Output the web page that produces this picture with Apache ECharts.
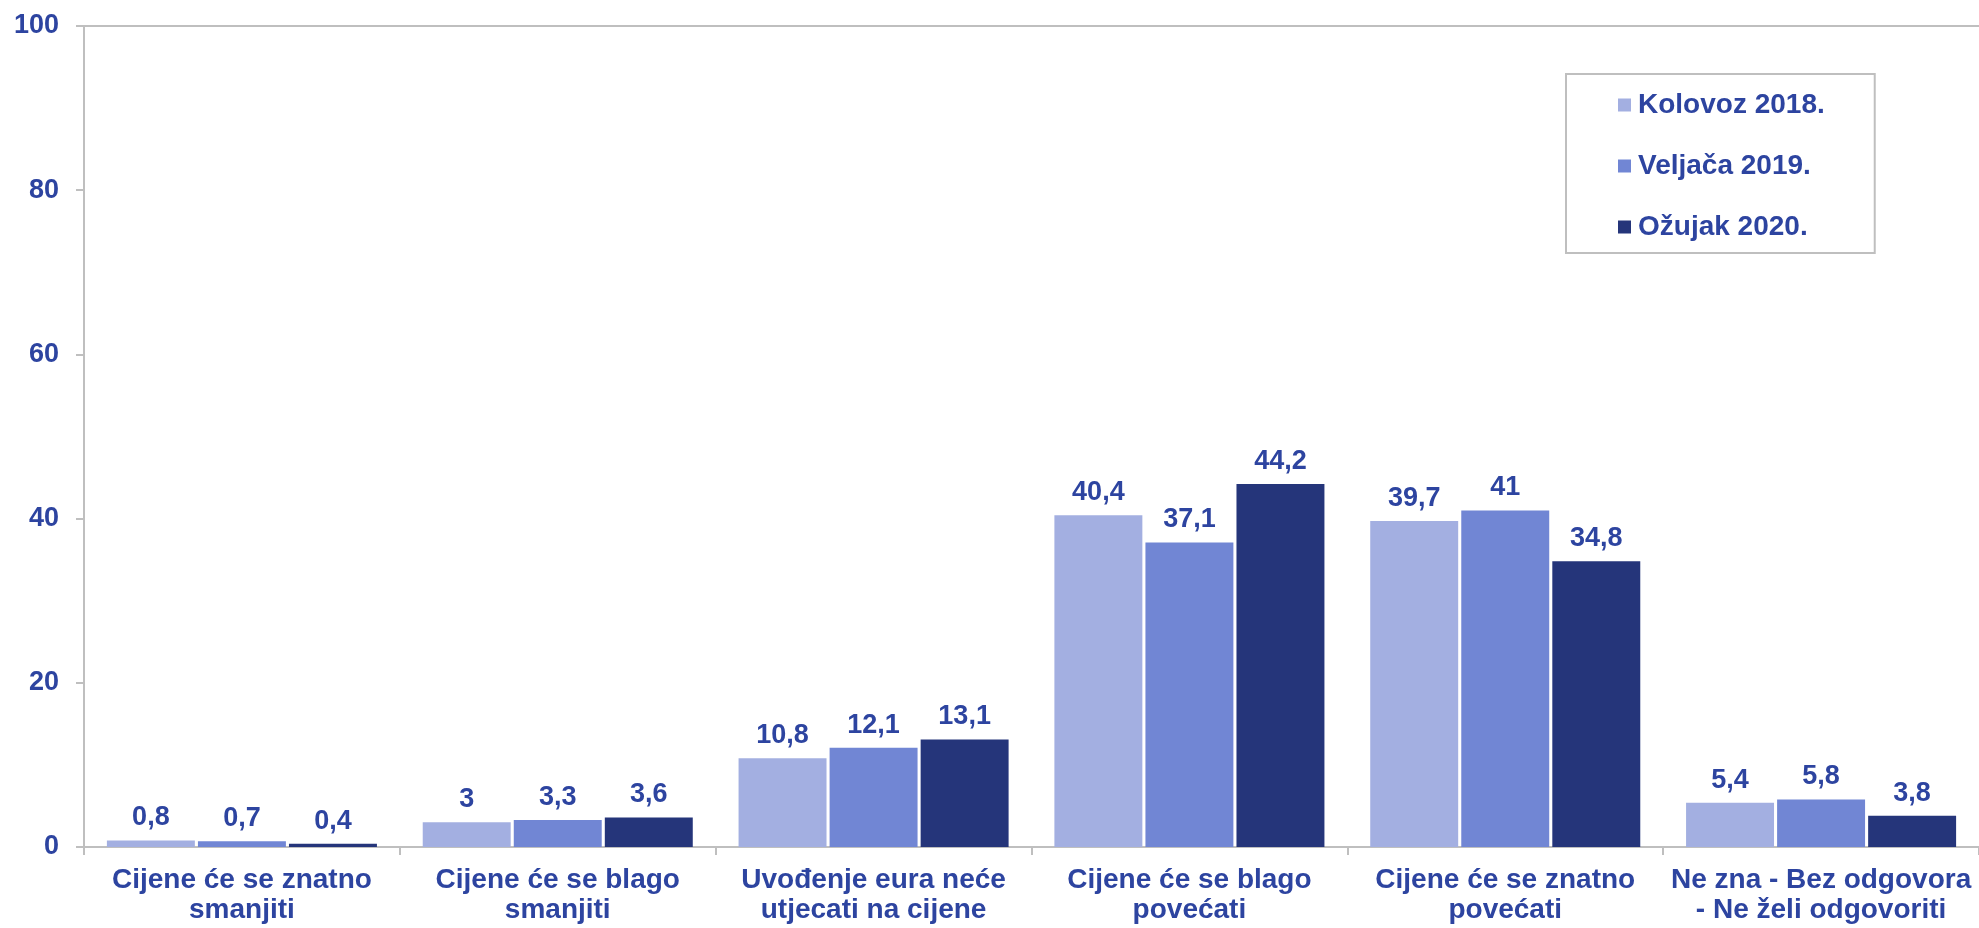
<!DOCTYPE html>
<html>
<head>
<meta charset="utf-8">
<script src="https://cdn.jsdelivr.net/npm/echarts@6/dist/echarts.min.js"></script>
<style>
html,body{margin:0;padding:0;background:#fff;}
#chart{width:1979px;height:928px;}
</style>
</head>
<body>
<div id="chart"></div>
<script>
const categories = [
  "Cijene će se znatno\nsmanjiti",
  "Cijene će se blago\nsmanjiti",
  "Uvođenje eura neće\nutjecati na cijene",
  "Cijene će se blago\npovećati",
  "Cijene će se znatno\npovećati",
  "Ne zna - Bez odgovora\n- Ne želi odgovoriti"
];
const seriesNames = ["Kolovoz 2018.", "Veljača 2019.", "Ožujak 2020."];
const kolovoz2018 = [0.8, 3, 10.8, 40.4, 39.7, 5.4];
const veljaca2019 = [0.7, 3.3, 12.1, 37.1, 41, 5.8];
const ozujak2020 = [0.4, 3.6, 13.1, 44.2, 34.8, 3.8];
const yTicks = [0, 20, 40, 60, 80, 100];

const colors = ["#A3AFE1", "#7186D4", "#25357A"];
const textColor = "#2D44A0";
const axisGray = "#BFBFBF";
const font = "'Liberation Sans', Arial, sans-serif";

const chart = echarts.init(document.getElementById('chart'), null, {renderer: 'canvas'});

const dataSets = [kolovoz2018, veljaca2019, ozujak2020];
const series = dataSets.map((d, i) => ({
  name: seriesNames[i],
  type: 'bar',
  data: d,
  barGap: '3.5%',
  barCategoryGap: '14.5%',
  itemStyle: {color: colors[i], borderColor: '#ffffff', borderWidth: 0},
  label: {
    show: true,
    position: 'top',
    distance: 9,
    color: textColor,
    fontFamily: font,
    fontWeight: 'bold',
    fontSize: 27,
    formatter: p => String(p.value).replace('.', ',')
  }
}));

chart.setOption({
  animation: false,
  backgroundColor: '#ffffff',
  grid: {left: 84, right: 0, top: 26, bottom: 81, containLabel: false},
  legend: {
    orient: 'vertical',
    left: 1566,
    top: 74,
    data: seriesNames,
    icon: 'rect',
    itemWidth: 13,
    itemHeight: 13,
    itemGap: 31,
    padding: [16, 50, 11, 52],
    borderColor: axisGray,
    borderWidth: 2,
    textStyle: {
      color: textColor,
      fontFamily: font,
      fontWeight: 'bold',
      fontSize: 28,
      lineHeight: 30,
      padding: [0, 0, 0, 2]
    }
  },
  xAxis: [{
    type: 'category',
    data: categories,
    position: 'bottom',
    axisLine: {show: true, lineStyle: {color: axisGray, width: 2}},
    axisTick: {show: true, length: 8, lineStyle: {color: axisGray, width: 2}},
    axisLabel: {
      interval: 0,
      margin: 18,
      color: textColor,
      fontFamily: font,
      fontWeight: 'bold',
      fontSize: 28,
      lineHeight: 30
    },
    splitLine: {show: false}
  }, {
    type: 'category',
    data: categories,
    position: 'top',
    axisLine: {show: true, lineStyle: {color: axisGray, width: 2}},
    axisTick: {show: false},
    axisLabel: {show: false},
    splitLine: {show: false}
  }],
  yAxis: {
    type: 'value',
    min: yTicks[0],
    max: yTicks[yTicks.length - 1],
    interval: 20,
    axisLine: {show: true, lineStyle: {color: axisGray, width: 2}},
    axisTick: {show: true, length: 8, lineStyle: {color: axisGray, width: 2}},
    axisLabel: {
      margin: 25,
      color: textColor,
      fontFamily: font,
      fontWeight: 'bold',
      fontSize: 27
    },
    splitLine: {show: false}
  },
  series: series
});
</script>
</body>
</html>
